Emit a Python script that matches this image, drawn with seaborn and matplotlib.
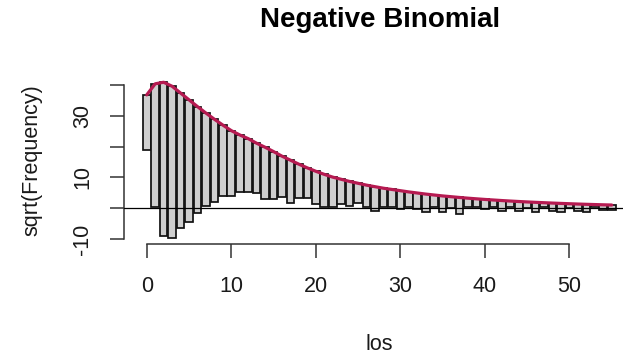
import numpy as np
import matplotlib
matplotlib.use("Agg")
import matplotlib.pyplot as plt
import seaborn as sns

# Counts (length of stay) 0..55
los = list(range(0, 56))

# sqrt of expected frequencies (negative binomial fit)
sqrt_expected = [36.8, 40.4, 40.9, 39.6, 37.4, 35.2, 33.0, 30.9, 28.9, 27.0,
                 25.2, 23.8, 22.6, 21.1, 19.8, 18.4, 16.9, 15.6, 14.3, 13.1,
                 12.0, 11.0, 10.1, 9.4, 8.7, 8.1, 7.5, 7.0, 6.5, 6.1,
                 5.7, 5.3, 4.95, 4.6, 4.3, 4.0, 3.75, 3.5, 3.27, 3.06,
                 2.86, 2.68, 2.5, 2.34, 2.19, 2.05, 1.92, 1.8, 1.68, 1.57,
                 1.47, 1.37, 1.28, 1.2, 1.12, 1.05]

# lower ends of the hanging bars (sqrt_expected - sqrt_observed)
bar_bottom = [18.9, 0.3, -9.0, -9.6, -6.3, -4.3, -1.6, 0.6, 2.1, 4.1,
              4.0, 5.4, 5.4, 4.8, 2.9, 2.9, 3.7, 1.6, 3.2, 3.2,
              1.5, 0.3, 0.3, 1.5, 0.8, 1.8, 0.5, -1.0, 0.3, 0.5,
              -0.2, 0.5, -0.3, -1.3, 0.3, -1.3, 0.2, -1.8, 0.3, 0.5,
              -0.4, 0.4, -1.0, 0.3, -0.8, 0.2, -1.2, 0.3, -0.9, -1.1,
              0.2, -0.8, -1.3, 0.3, -0.7, -0.5]

sqrt_observed = [e - b for e, b in zip(sqrt_expected, bar_bottom)]

x_ticks = [0, 10, 20, 30, 40, 50]
y_ticks = [-10, 0, 10, 20, 30, 40]
y_ticklabels = ["-10", "", "10", "", "30", ""]

sns.set_style("ticks")
plt.rcParams["font.family"] = ["Liberation Sans", "DejaVu Sans"]

W, H = 623, 359
fig = plt.figure(figsize=(W / 100, H / 100), dpi=100)
ax = fig.add_axes([124 / W, 1 - 244.3 / H, 510.5 / W, 168.2 / H])

# hanging bars
ax.bar(los, sqrt_observed, width=0.9, bottom=bar_bottom,
       color="#CFCFCF", edgecolor="#111111", linewidth=1.25, zorder=2)

ax.axhline(0, color="black", linewidth=0.9, zorder=3)

sns.lineplot(x=los, y=sqrt_expected, ax=ax, color="#B61A51",
             linewidth=2.3, zorder=4)

ax.set_xlim(-2.69, 57.69)
ax.set_ylim(-11.7, 42.9)

for s in ["top", "right"]:
    ax.spines[s].set_visible(False)
ax.spines["left"].set_bounds(-10, 40)
ax.spines["bottom"].set_bounds(0, 50)
for s in ["left", "bottom"]:
    ax.spines[s].set_linewidth(1.1)
    ax.spines[s].set_color("#333333")

ax.set_xticks(x_ticks)
ax.set_xticklabels([str(t) for t in x_ticks])
ax.set_yticks(y_ticks)
ax.set_yticklabels(y_ticklabels, rotation=90, va="center")
ax.tick_params(axis="x", length=10, width=1.1, color="#333333",
               labelsize=15.5, pad=13, labelcolor="#1a1a1a")
ax.tick_params(axis="y", length=10, width=1.1, color="#333333",
               labelsize=15.5, pad=12, labelcolor="#1a1a1a")
ax.set_xlabel("")
ax.set_ylabel("")

fig.text(380 / W, 1 - 20 / H, "Negative Binomial", ha="center", va="center",
         fontsize=20, fontweight="bold", color="black")
fig.text(379 / W, 1 - 345 / H, "los", ha="center", va="center",
         fontsize=15.5, color="#1a1a1a")
fig.text(32 / W, 1 - 160 / H, "sqrt(Frequency)", ha="center", va="center",
         rotation=90, fontsize=15.5, color="#1a1a1a")

fig.savefig("out.png", dpi=100)
